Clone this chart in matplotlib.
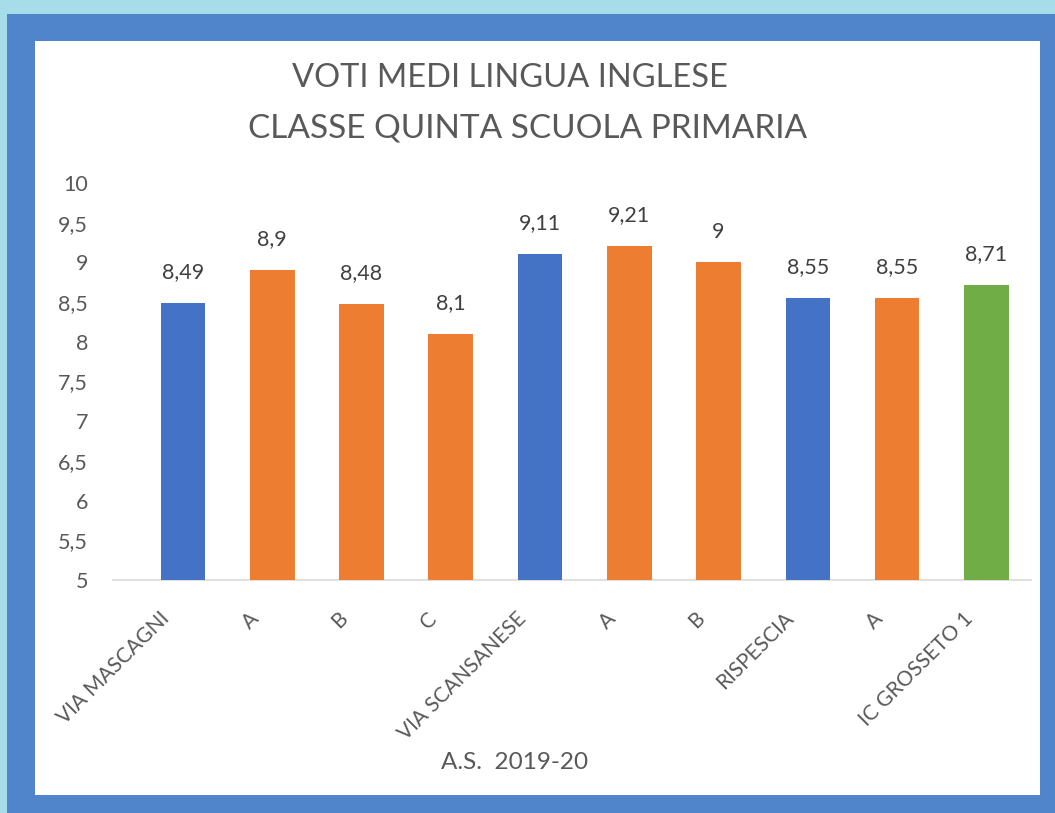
import numpy as np
import matplotlib
matplotlib.use("Agg")
import matplotlib.pyplot as plt
import matplotlib.transforms as mtransforms
from matplotlib.patches import Rectangle

plt.rcParams['font.family'] = ['Lato', 'DejaVu Sans']

#-----Data-----

categories = ["VIA MASCAGNI", "A", "B", "C", "VIA SCANSANESE", "A", "B", "RISPESCIA", "A", "IC GROSSETO 1"]
values = [8.49, 8.9, 8.48, 8.1, 9.11, 9.21, 9.0, 8.55, 8.55, 8.71]
value_labels = ["8,49", "8,9", "8,48", "8,1", "9,11", "9,21", "9", "8,55", "8,55", "8,71"]
bar_colors = ["#4472C4", "#ED7D31", "#ED7D31", "#ED7D31", "#4472C4",
              "#ED7D31", "#ED7D31", "#4472C4", "#ED7D31", "#70AD47"]
y_ticks = [5, 5.5, 6, 6.5, 7, 7.5, 8, 8.5, 9, 9.5, 10]
y_tick_labels = ["5", "5,5", "6", "6,5", "7", "7,5", "8", "8,5", "9", "9,5", "10"]

#-----Figure and frame-----

W, H = 1055, 813
fig = plt.figure(figsize=(W / 100, H / 100), dpi=100, facecolor="#a6dde8")

fig.patches.append(Rectangle((7 / W, 0), 1, (H - 14) / H, transform=fig.transFigure,
                             facecolor="#5185cb", edgecolor="none", zorder=-2))
fig.patches.append(Rectangle((35 / W, (H - 795) / H), 1005 / W, (795 - 41) / H,
                             transform=fig.transFigure, facecolor="white",
                             edgecolor="none", zorder=-1))

#-----Axes-----

ax = fig.add_axes([113 / W, (H - 580) / H, (1031 - 113) / W, (580 - 183) / H])
ax.set_zorder(2)
ax.set_facecolor("none")
x = np.arange(len(categories))
bars = ax.bar(x, values, width=0.5, color=bar_colors, zorder=3)

ax.set_ylim(5, 10)
ax.set_xlim(-0.784, 9.5)
ax.set_yticks(y_ticks)
ax.set_yticklabels(y_tick_labels)
ax.set_xticks(x)
ax.set_xticklabels(categories, rotation=45, ha="right", va="top", rotation_mode="anchor")

for s in ["top", "right", "left"]:
    ax.spines[s].set_visible(False)
ax.spines["bottom"].set_color("#d9d9d9")
ax.spines["bottom"].set_linewidth(1.2)
ax.tick_params(axis="both", length=0, labelcolor="#595959")
ax.tick_params(axis="y", pad=18, labelsize=15.5)
ax.tick_params(axis="x", pad=14, labelsize=15)

# shift the rotated labels a bit left and down, like the original
shift = mtransforms.ScaledTranslation(-0.24, -0.09, fig.dpi_scale_trans)
for lab in ax.get_xticklabels():
    lab.set_transform(lab.get_transform() + shift)

for b, lab in zip(bars, value_labels):
    ax.annotate(lab, (b.get_x() + b.get_width() / 2, b.get_height()),
                xytext=(0, 15), textcoords="offset points",
                ha="center", va="bottom", fontsize=15.5, color="#404040")

#-----Titles-----

fig.text(510 / W, 1 - 78 / H, "VOTI MEDI LINGUA INGLESE", ha="center", va="center",
         fontsize=23.5, color="#595959")
fig.text(528 / W, 1 - 128 / H, "CLASSE QUINTA SCUOLA PRIMARIA", ha="center", va="center",
         fontsize=24, color="#595959")
fig.text(515 / W, 1 - 762 / H, "A.S.  2019-20", ha="center", va="center",
         fontsize=17.5, color="#595959")

fig.savefig("out.png", dpi=100, facecolor=fig.get_facecolor())
